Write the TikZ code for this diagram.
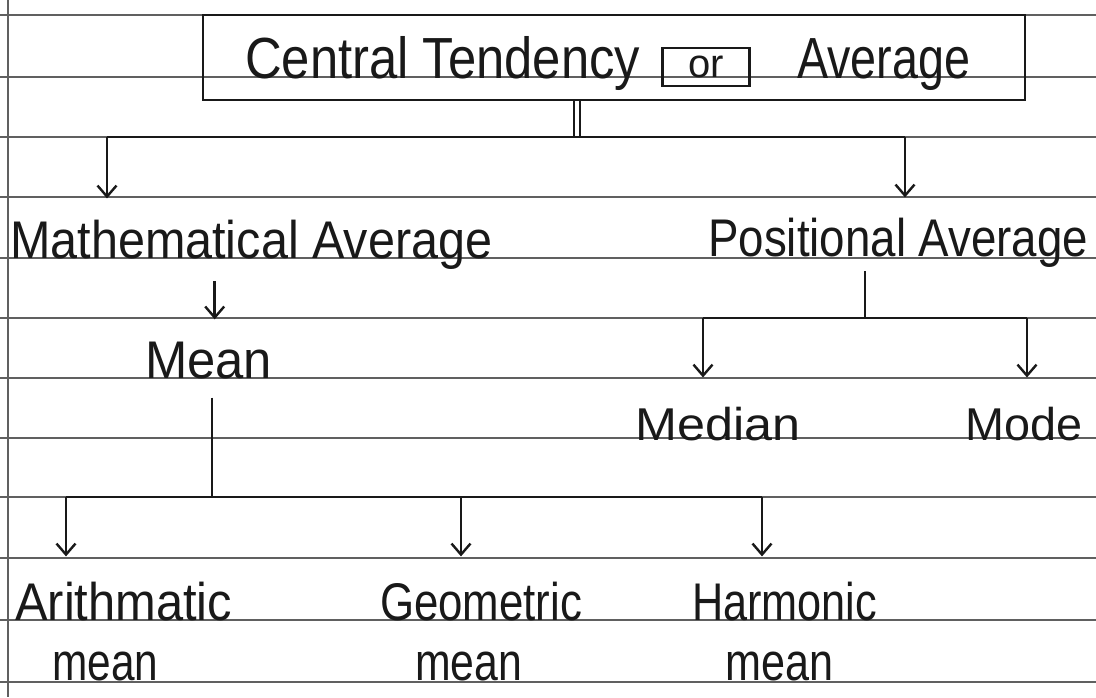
\documentclass[tikz,border=0pt]{standalone}
\usepackage{fontspec}
\setmainfont{Liberation Sans}
\usetikzlibrary{arrows.meta}
\newcommand\hwt[2]{\resizebox{#1}{\height}{#2}}
\begin{document}
\begin{tikzpicture}[x=1pt,y=-1pt,
  rule/.style={draw=gray!75!black, line width=1.8pt},
  conn/.style={draw=black!90, line width=2.6pt},
  arr/.style={conn, -{Straight Barb[length=11pt,width=19pt,line width=2.4pt]}},
  hw/.style={inner sep=0pt, anchor=base west, font=\fontsize{53}{60}\selectfont, text=black!90},
  small/.style={font=\fontsize{46}{50}\selectfont}]
\useasboundingbox (0,0) rectangle (1096,697);
\fill[white] (0,0) rectangle (1096,697);
\foreach \y in {15,77,137,197,258,318,378,438,497,558,620,682}
  \draw[rule] (0,\y) -- (1096,\y);
\draw[rule] (8,0) -- (8,697);

% title box
\node[draw=black!90, line width=2.6pt, minimum width=822pt, minimum height=85pt, inner sep=0pt] (top) at (614,57.5) {};
\node[hw, font=\fontsize{58}{62}\selectfont] (ct) at (245,78) {\hwt{395pt}{Central Tendency}};
\node[draw=black!90, line width=2.4pt, inner sep=0pt, minimum width=87pt, minimum height=38pt, text=black!90, font=\fontsize{40}{42}\selectfont] (or) at (706,67) {or};
\node[hw, font=\fontsize{58}{62}\selectfont] (av) at (797,78) {\hwt{173pt}{Average}};

% level 2
\node[hw] (ma) at (10,258) {\hwt{482pt}{Mathematical Average}};
\node[hw] (pa) at (708,256) {\hwt{380pt}{Positional Average}};

% level 3
\node[hw] (mean) at (145,378) {\hwt{127pt}{Mean}};
\node[hw, small] (med) at (635,440) {\hwt{165pt}{Median}};
\node[hw, small] (mode) at (965,440) {\hwt{117pt}{Mode}};

% level 4
\node[hw] (am1) at (15,620) {\hwt{217pt}{Arithmatic}};
\node[hw] (am2) at (52,680) {\hwt{106pt}{mean}};
\node[hw] (gm1) at (380,620) {\hwt{202pt}{Geometric}};
\node[hw] (gm2) at (415,680) {\hwt{107pt}{mean}};
\node[hw] (hm1) at (692,620) {\hwt{185pt}{Harmonic}};
\node[hw] (hm2) at (725,680) {\hwt{108pt}{mean}};

% connectors from title
\coordinate (j) at (577,137);
\draw[draw=black!90, line width=2pt, double=white, double distance=4pt] (j |- top.south) -- (j);
\coordinate (jl) at (107,137);
\coordinate (jr) at (905,137);
\draw[conn] (jl) -- (jr);
\draw[arr, shorten >=21pt] (jl) -- (jl |- ma.north);
\draw[arr, shorten >=20pt] (jr) -- (jr |- pa.north);

% mathematical -> mean
\draw[arr, shorten <=12pt, shorten >=22pt] ([xshift=6pt]mean.north |- ma.south) -- ([xshift=6pt]mean.north);

% positional -> median / mode
\coordinate (pj) at (865,318);
\draw[conn, shorten <=4pt] (pj |- pa.south) -- (pj);
\coordinate (pl) at (703,318);
\coordinate (pr) at (1027,318);
\draw[conn] (pl) -- (pr);
\draw[arr, shorten >=29pt] (pl) -- (pl |- med.north);
\draw[arr, shorten >=29pt] (pr) -- (pr |- mode.north);

% mean -> three means
\coordinate (mj) at (212,497);
\draw[conn, shorten <=19pt] (mj |- mean.south) -- (mj);
\coordinate (ml) at (66,497);
\coordinate (mg) at (461,497);
\coordinate (mr) at (762,497);
\draw[conn] (ml) -- (mr);
\draw[arr, shorten >=25pt] (ml) -- (ml |- am1.north);
\draw[arr, shorten >=25pt] (mg) -- (mg |- gm1.north);
\draw[arr, shorten >=25pt] (mr) -- (mr |- hm1.north);
\end{tikzpicture}
\end{document}
